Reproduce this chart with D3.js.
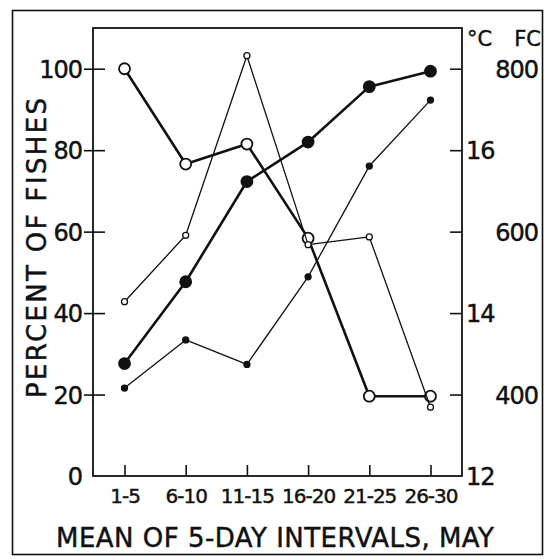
<!DOCTYPE html>
<html>
<head>
<meta charset="utf-8">
<script src="https://cdn.jsdelivr.net/npm/d3@7"></script>
<style>
  body { margin: 0; background: #fff; }
  svg { display: block; }
  text { font-family: 'DejaVu Sans', sans-serif; fill: #111; stroke: #111; stroke-width: 0.45px; }
</style>
</head>
<body>
<script>
  'use strict';

  // Data.
  var categories   = [ '1-5', '6-10', '11-15', '16-20', '21-25', '26-30' ];
  var openLarge    = [ 100, 76.6, 81.5, 58.4, 19.6, 19.6 ];
  var filledLarge  = [ 27.6, 47.7, 72.3, 82, 95.6, 99.4 ];
  var openSmall    = [ 42.8, 59.1, 103.2, 56.8, 58.7, 16.9 ];
  var filledSmall  = [ 21.6, 33.4, 27.4, 48.9, 76.1, 92.3 ];

  var percentTicks = [ 0, 20, 40, 60, 80, 100 ],
      celsiusTicks = [ 12, 14, 16 ],
      fcTicks      = [ 400, 600, 800 ];

  var width     = 553,
      height    = 559,
      plotLeft  = 93,
      plotRight = 462,
      plotTop   = 28,
      plotBot   = 476,
      ink       = '#111';

  var svg = d3.select( 'body' )
    .append( 'svg' )
      .attr( 'width', width )
      .attr( 'height', height );

  // Outer border.
  svg.append( 'rect' )
    .attr( 'x', 12.5 )
    .attr( 'y', 10.5 )
    .attr( 'width', 530 )
    .attr( 'height', 544 )
    .style( 'fill', 'none' )
    .style( 'stroke', ink )
    .style( 'stroke-width', 1.6 );

  var x = d3.scalePoint()
    .domain( categories )
    .range( [ plotLeft, plotRight ] )
    .padding( 0.515 );

  var y = d3.scaleLinear()
    .domain( [ 0, 110 ] )
    .range( [ plotBot, plotTop ] );

  // Right-hand scales share the same pixel span.
  var yC = d3.scaleLinear()
    .domain( [ 12, 17.5 ] )
    .range( [ plotBot, plotTop ] );

  var yFC = d3.scaleLinear()
    .domain( [ 300, 850 ] )
    .range( [ plotBot, plotTop ] );

  function notBase( d ) { return d !== 0 && d !== 12; }

  // Left axis: labels plus ticks that cross the line.
  var gLeft = svg.append( 'g' )
    .attr( 'transform', 'translate(' + plotLeft + ',0)' )
    .call( d3.axisLeft( y ).tickValues( percentTicks ).tickSize( 9 ).tickPadding( 2 ) );
  gLeft.select( '.domain' ).remove();
  gLeft.selectAll( '.tick line' )
    .filter( function( d ) { return d === 0; } )
    .remove();
  gLeft.selectAll( '.tick line' )
    .attr( 'x2', -9 )
    .attr( 'x1', 12 );
  gLeft.selectAll( 'text' )
    .style( 'font-size', '24px' )
    .attr( 'dy', '0.36em' )
    .attr( 'letter-spacing', -1 );

  // Right axis: inward ticks, °C labels next to the line.
  var gC = svg.append( 'g' )
    .attr( 'transform', 'translate(' + plotRight + ',0)' )
    .call( d3.axisRight( yC )
      .tickValues( celsiusTicks )
      .tickFormat( d3.format( 'd' ) )
      .tickSize( 0 )
      .tickPadding( 4 ) );
  gC.select( '.domain' ).remove();
  gC.selectAll( 'text' )
    .style( 'font-size', '24px' )
    .attr( 'letter-spacing', -1 )
    .attr( 'dy', '0.36em' );
  gC.selectAll( '.tick' )
    .filter( notBase )
    .append( 'line' )
      .attr( 'x1', -12 )
      .attr( 'x2', 0 );

  var gFC = svg.append( 'g' )
    .attr( 'transform', 'translate(' + plotRight + ',0)' )
    .call( d3.axisRight( yFC ).tickValues( fcTicks ).tickSize( 0 ).tickPadding( 0 ) );
  gFC.select( '.domain' ).remove();
  gFC.selectAll( 'text' )
    .attr( 'x', 76 )
    .style( 'text-anchor', 'end' )
    .style( 'font-size', '24px' )
    .attr( 'letter-spacing', -1 )
    .attr( 'dy', '0.36em' );
  gFC.selectAll( '.tick' )
    .append( 'line' )
      .attr( 'x1', -12 )
      .attr( 'x2', 0 );

  // Bottom axis: inward ticks.
  var gBottom = svg.append( 'g' )
    .attr( 'transform', 'translate(0,' + plotBot + ')' )
    .call( d3.axisBottom( x ).tickSize( 0 ).tickPadding( 13 ) );
  gBottom.select( '.domain' ).remove();
  gBottom.selectAll( 'text' )
    .style( 'font-size', '20px' )
    .attr( 'letter-spacing', -1 );
  gBottom.selectAll( '.tick' )
    .append( 'line' )
      .attr( 'y1', -11 )
      .attr( 'y2', 0 );

  svg.selectAll( '.tick line' )
    .style( 'stroke', ink )
    .style( 'stroke-width', 1.6 );
  svg.selectAll( '.tick text' )
    .style( 'fill', ink )
    .style( 'font-family', 'DejaVu Sans' );

  // Plot frame.
  svg.append( 'rect' )
    .attr( 'x', plotLeft )
    .attr( 'y', plotTop )
    .attr( 'width', plotRight - plotLeft )
    .attr( 'height', plotBot - plotTop )
    .style( 'fill', 'none' )
    .style( 'stroke', ink )
    .style( 'stroke-width', 1.8 );

  // Unit header on the right.
  svg.append( 'text' )
    .attr( 'x', 467 )
    .attr( 'y', 46 )
    .style( 'font-size', '21px' )
    .text( '°C' );
  svg.append( 'text' )
    .attr( 'x', 541 )
    .attr( 'y', 46 )
    .style( 'font-size', '21px' )
    .style( 'text-anchor', 'end' )
    .text( 'FC' );

  // Axis titles.
  svg.append( 'text' )
    .attr( 'transform', 'translate(46,248) rotate(-90)' )
    .style( 'text-anchor', 'middle' )
    .style( 'font-size', '26px' )
    .attr( 'textLength', 300 )
    .attr( 'lengthAdjust', 'spacing' )
    .text( 'PERCENT OF FISHES' );

  svg.append( 'text' )
    .attr( 'x', 275 )
    .attr( 'y', 547 )
    .style( 'text-anchor', 'middle' )
    .style( 'font-size', '26px' )
    .attr( 'textLength', 438 )
    .attr( 'lengthAdjust', 'spacing' )
    .text( 'MEAN OF 5-DAY INTERVALS, MAY' );

  // Series.
  var series = [
    { values: openLarge,   width: 2.6, r: 5.5, fill: '#fff' },
    { values: filledLarge, width: 2.6, r: 5.5, fill: ink },
    { values: openSmall,   width: 1.3, r: 3,   fill: '#fff' },
    { values: filledSmall, width: 1.3, r: 3,   fill: ink }
  ];

  var line = d3.line()
    .x( function( d, i ) { return x( categories[ i ] ); } )
    .y( function( d ) { return y( d ); } );

  var seriesG = svg.selectAll( '.series' )
    .data( series )
    .enter()
    .append( 'g' )
      .attr( 'class', 'series' );

  seriesG.append( 'path' )
    .attr( 'd', function( s ) { return line( s.values ); } )
    .style( 'fill', 'none' )
    .style( 'stroke', ink )
    .style( 'stroke-width', function( s ) { return s.width; } )
    .style( 'stroke-linejoin', 'round' );

  seriesG.each( function( s ) {
    d3.select( this ).selectAll( 'circle' )
      .data( s.values )
      .enter()
      .append( 'circle' )
        .attr( 'cx', function( d, i ) { return x( categories[ i ] ); } )
        .attr( 'cy', y )
        .attr( 'r', s.r )
        .style( 'fill', s.fill )
        .style( 'stroke', ink )
        .style( 'stroke-width', s.r > 4 ? 1.8 : 1.3 );
  });
</script>
</body>
</html>
